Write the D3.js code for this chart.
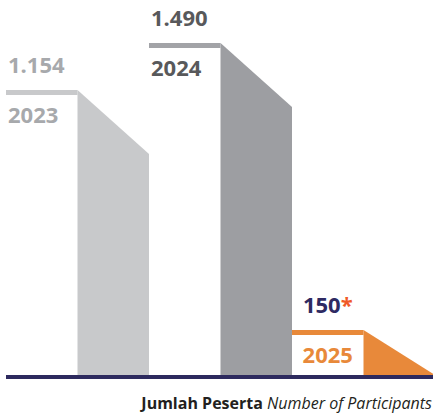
<!DOCTYPE html>
<html>
<head>
<meta charset="utf-8">
<script src="https://cdn.jsdelivr.net/npm/d3@7"></script>
<style>
	html, body { margin: 0; padding: 0; background: #fff; }
	svg { display: block; }
</style>
</head>
<body>
<div id="chart"></div>
<script>
const years = ['2023', '2024', '2025'];
const participants = [1154, 1490, 150];
const valueLabels = ['1.154', '1.490', '150'];
const notes = ['', '', '*'];

const bodyColors = ['#c8c9cb', '#9d9ea2', '#e8893a'];
const lineColors = ['#c8c9cb', '#a2a3a7', '#e8893a'];
const valueColors = ['#a7a9ac', '#58595b', '#2e2a62'];
const yearColors = ['#a7a9ac', '#58595b', '#e8893a'];

const width = 433;
const height = 416;
const base = 375;

const svg = d3.select('#chart')
	.append('svg')
	.attr('width', width)
	.attr('height', height);

// bands: left half is the flat ledge, right half the slanted bar
const x = d3.scaleBand().domain(years).range([6, 435]).padding(0);

// the infographic is not drawn to scale, so use a piecewise scale
const y = d3.scaleLinear()
	.domain([0, 150, 1154, 1490])
	.range([base, 330, 90, 43]);

const data = years.map((year, i) => ({
	year: year,
	value: participants[i],
	label: valueLabels[i],
	note: notes[i],
	i: i,
}));

const half = x.bandwidth() / 2;
const ledge = 5;

const g = svg.selectAll('g.bar')
	.data(data)
	.enter()
	.append('g')
	.attr('class', 'bar');

// slanted body
g.append('path')
	.attr('fill', (d) => bodyColors[d.i])
	.attr('d', (d) => {
		const x0 = x(d.year) + half;
		const x1 = x(d.year) + x.bandwidth();
		const top = y(d.value);
		const drop = Math.min(64, base - top);
		return `M${x0},${top}L${x1},${top + drop}L${x1},${base}L${x0},${base}Z`;
	});

// flat ledge
g.append('rect')
	.attr('x', (d) => x(d.year))
	.attr('y', (d) => y(d.value))
	.attr('width', half)
	.attr('height', ledge)
	.attr('fill', (d) => lineColors[d.i]);

const isLast = (d) => d.i === data.length - 1;
const textX = (d) => (isLast(d) ? x(d.year) + half / 2 : x(d.year) + 2);
const anchor = (d) => (isLast(d) ? 'middle' : 'start');

// value labels
const vt = g.append('text')
	.attr('x', textX)
	.attr('y', (d) => y(d.value) - 17)
	.attr('text-anchor', anchor)
	.style('font-family', '"Open Sans", sans-serif')
	.style('font-weight', 700)
	.style('font-size', '22px')
	.attr('fill', (d) => valueColors[d.i]);
vt.append('tspan').text((d) => d.label);
vt.append('tspan')
	.attr('fill', '#f05a28')
	.text((d) => d.note);

// year labels
g.append('text')
	.attr('x', textX)
	.attr('y', (d) => y(d.value) + 33)
	.attr('text-anchor', anchor)
	.style('font-family', '"Open Sans", sans-serif')
	.style('font-weight', 700)
	.style('font-size', '22px')
	.attr('fill', (d) => yearColors[d.i])
	.text((d) => d.year);

// baseline
svg.append('rect')
	.attr('x', 6)
	.attr('y', base)
	.attr('width', width - 6)
	.attr('height', 4)
	.attr('fill', '#2d2a5e');

// caption
const cap = svg.append('text')
	.attr('x', 432)
	.attr('y', 409)
	.attr('text-anchor', 'end')
	.style('font-family', '"Open Sans", sans-serif')
	.style('font-size', '16px')
	.attr('fill', '#231f20');
cap.append('tspan').style('font-weight', 700).text('Jumlah Peserta ');
cap.append('tspan').style('font-style', 'italic').text('Number of Participants');
</script>
</body>
</html>
